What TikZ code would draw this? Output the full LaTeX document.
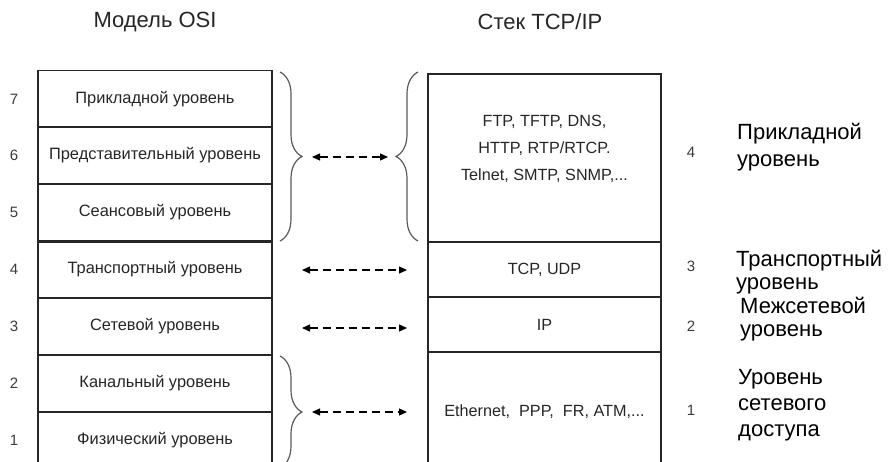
\documentclass[tikz,border=0pt]{standalone}
\usepackage{fontspec}
\setmainfont{Liberation Sans}
\usetikzlibrary{arrows.meta,decorations.pathreplacing}

\definecolor{ink}{HTML}{262626}
\definecolor{rule}{HTML}{262626}
\definecolor{bracegray}{HTML}{5A5A5A}
\definecolor{numgray}{HTML}{3C3C3C}

\begin{document}
\begin{tikzpicture}[x=1pt,y=-1pt,
  osibox/.style={draw=rule, line width=1.1pt, minimum width=234pt,
    minimum height=57pt, inner sep=0pt, text=ink,
    font=\fontsize{16.4}{19}\selectfont},
  tcpbox/.style={draw=rule, line width=1.1pt, minimum width=233pt,
    inner sep=0pt, text=ink, font=\fontsize{16.2}{19}\selectfont},
  num/.style={text=numgray, font=\fontsize{15}{18}\selectfont, inner sep=0pt},
  title/.style={text=ink, font=\fontsize{22}{26}\selectfont, inner sep=0pt},
  lvl/.style={text=black, anchor=west, align=left, inner sep=0pt},
  grp/.style={draw=bracegray, line width=1.2pt,
    decorate, decoration={brace, amplitude=22pt}},
  link/.style={draw=black, line width=1.2pt, dash pattern=on 8pt off 5pt,
    {Triangle[length=8pt,width=7pt]}-{Triangle[length=8pt,width=7pt]}}
]
\useasboundingbox (0,0) rectangle (890,461);
\clip (0,0) rectangle (890,461);
\fill[white] (0,0) rectangle (890,461);

% column titles
\node[title] (tosi) at (155,22) {Модель OSI};
\node[title] (ttcp) at (540,22) {Стек TCP/IP};

% OSI reference model, layers 7..1
\node[osibox] (o7) at (155,99)    {Прикладной уровень};
\node[osibox] (o6) at (155,155.5) {Представительный уровень};
\node[osibox] (o5) at (155,212.5) {Сеансовый уровень};
\node[osibox] (o4) at (155,269.5) {Транспортный уровень};
\node[osibox] (o3) at (155,326.5) {Сетевой уровень};
\node[osibox] (o2) at (155,383.5) {Канальный уровень};
\node[osibox] (o1) at (155,440.5) {Физический уровень};
\draw[rule, line width=2.2pt] (o5.south west) -- (o5.south east);

\node[num] (n7) at (14,99)    {7};
\node[num] (n6) at (14,155.5) {6};
\node[num] (n5) at (14,212.5) {5};
\node[num] (n4) at (14,269.5) {4};
\node[num] (n3) at (14,326.5) {3};
\node[num] (n2) at (14,383.5) {2};
\node[num] (n1) at (14,440.5) {1};

% TCP/IP stack
\node[tcpbox, minimum height=168pt] (tapp) at (544.5,158) {};
\node[text=ink, align=center, inner sep=0pt,
  font=\fontsize{16.2}{27}\selectfont] (tapptxt) at (544.5,149)
  {FTP, TFTP, DNS,\\HTTP, RTP/RTCP.\\Telnet, SMTP, SNMP,...};
\node[tcpbox, minimum height=55pt] (ttr) at (544.5,269.5) {TCP, UDP};
\node[tcpbox, minimum height=55pt] (tip) at (544.5,324.5) {IP};
\node[tcpbox, minimum height=118pt, text depth=0pt] (teth) at (544.5,411)
  {Ethernet,\ \ PPP,\ \ FR, ATM,...};

\node[num] (m4) at (691,152) {4};
\node[num] (m3) at (691,266) {3};
\node[num] (m2) at (691,326) {2};
\node[num] (m1) at (691,410) {1};

% TCP/IP layer names
\node[lvl, font=\fontsize{22}{27}\selectfont] (lapp) at (737,147)
  {Прикладной\\уровень};
\node[lvl, font=\fontsize{22}{23}\selectfont] (ltr) at (736,272)
  {Транспортный\\уровень};
\node[lvl, font=\fontsize{22}{23}\selectfont] (lnet) at (740,319)
  {Межсетевой\\уровень};
\node[lvl, font=\fontsize{22}{26}\selectfont] (lacc) at (738,405)
  {Уровень\\сетевого\\доступа};

% braces grouping layers
\coordinate (b1a) at (280,72);
\coordinate (b1b) at (280,241);
\coordinate (b2a) at (418,241);
\coordinate (b2b) at (418,72);
\coordinate (b3a) at (280,356);
\coordinate (b3b) at (280,468);
\draw[grp] (b1a) -- (b1b);
\draw[grp] (b2a) -- (b2b);
\draw[grp] (b3a) -- (b3b);

% correspondence arrows
\coordinate (a1l) at (312,157);
\coordinate (a1r) at (388,157);
\coordinate (a2l) at (302,270);
\coordinate (a2r) at (407,270);
\coordinate (a3l) at (302,328);
\coordinate (a3r) at (407,328);
\coordinate (a4l) at (312,412);
\coordinate (a4r) at (407,412);
\draw[link] (a1l) -- (a1r);
\draw[link] (a2l) -- (a2r);
\draw[link] (a3l) -- (a3r);
\draw[link] (a4l) -- (a4r);
\end{tikzpicture}
\end{document}
